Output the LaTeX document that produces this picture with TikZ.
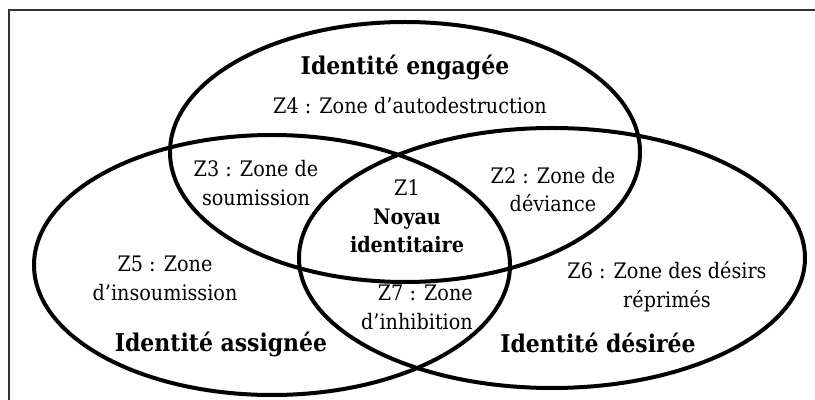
\documentclass[tikz,border=0pt]{standalone}
\usepackage{fontspec}
\setmainfont{DejaVu Serif Condensed}
\tikzset{
  zone/.style={inner sep=0pt, align=center, font=\fontsize{16pt}{21.5pt}\selectfont},
  title/.style={inner sep=0pt, anchor=base, font=\fontsize{18.3pt}{26pt}\selectfont\bfseries},
  set/.style={line width=3pt},
}
\begin{document}
\begin{tikzpicture}[x=0.75pt, y=0.75pt]
    \useasboundingbox (0,0) rectangle (815,400);
    % frame
    \begin{scope}
      \clip (0,0) rectangle (815,400);
      \draw[line width=1pt, black!80] (9,390) rectangle (830,-20);
    \end{scope}
    % the three identities
    \draw[set] (405,248) ellipse [x radius=235, y radius=130];
    \draw[set] (272,135) ellipse [x radius=238, y radius=130];
    \draw[set] (552,142) ellipse [x radius=253, y radius=130];
    % titles
    \node[title] (engagee) at (405,325) {Identité engagée};
    \node[title] (assignee) at (221,48) {Identité assignée};
    \node[title] (desiree) at (598,47) {Identité désirée};
    % zones
    \node[zone] (z4) at (410,294) {Z4 : Zone d’autodestruction};
    \node[zone] (z3) at (256,217) {Z3 : Zone de\\soumission};
    \node[zone] (z1) at (407,183.5) {Z1\\\textbf{Noyau}\\\textbf{identitaire}};
    \node[zone] (z2) at (553,210.5) {Z2 : Zone de\\déviance};
    \node[zone] (z5) at (165,121.5) {Z5 : Zone\\d’insoumission};
    \node[zone] (z6) at (667,113.5) {Z6 : Zone des désirs\\réprimés};
    \node[zone, align=right, anchor=east] (z7) at (473,92.5) {Z7 : Zone\\d’inhibition};
\end{tikzpicture}
\end{document}
